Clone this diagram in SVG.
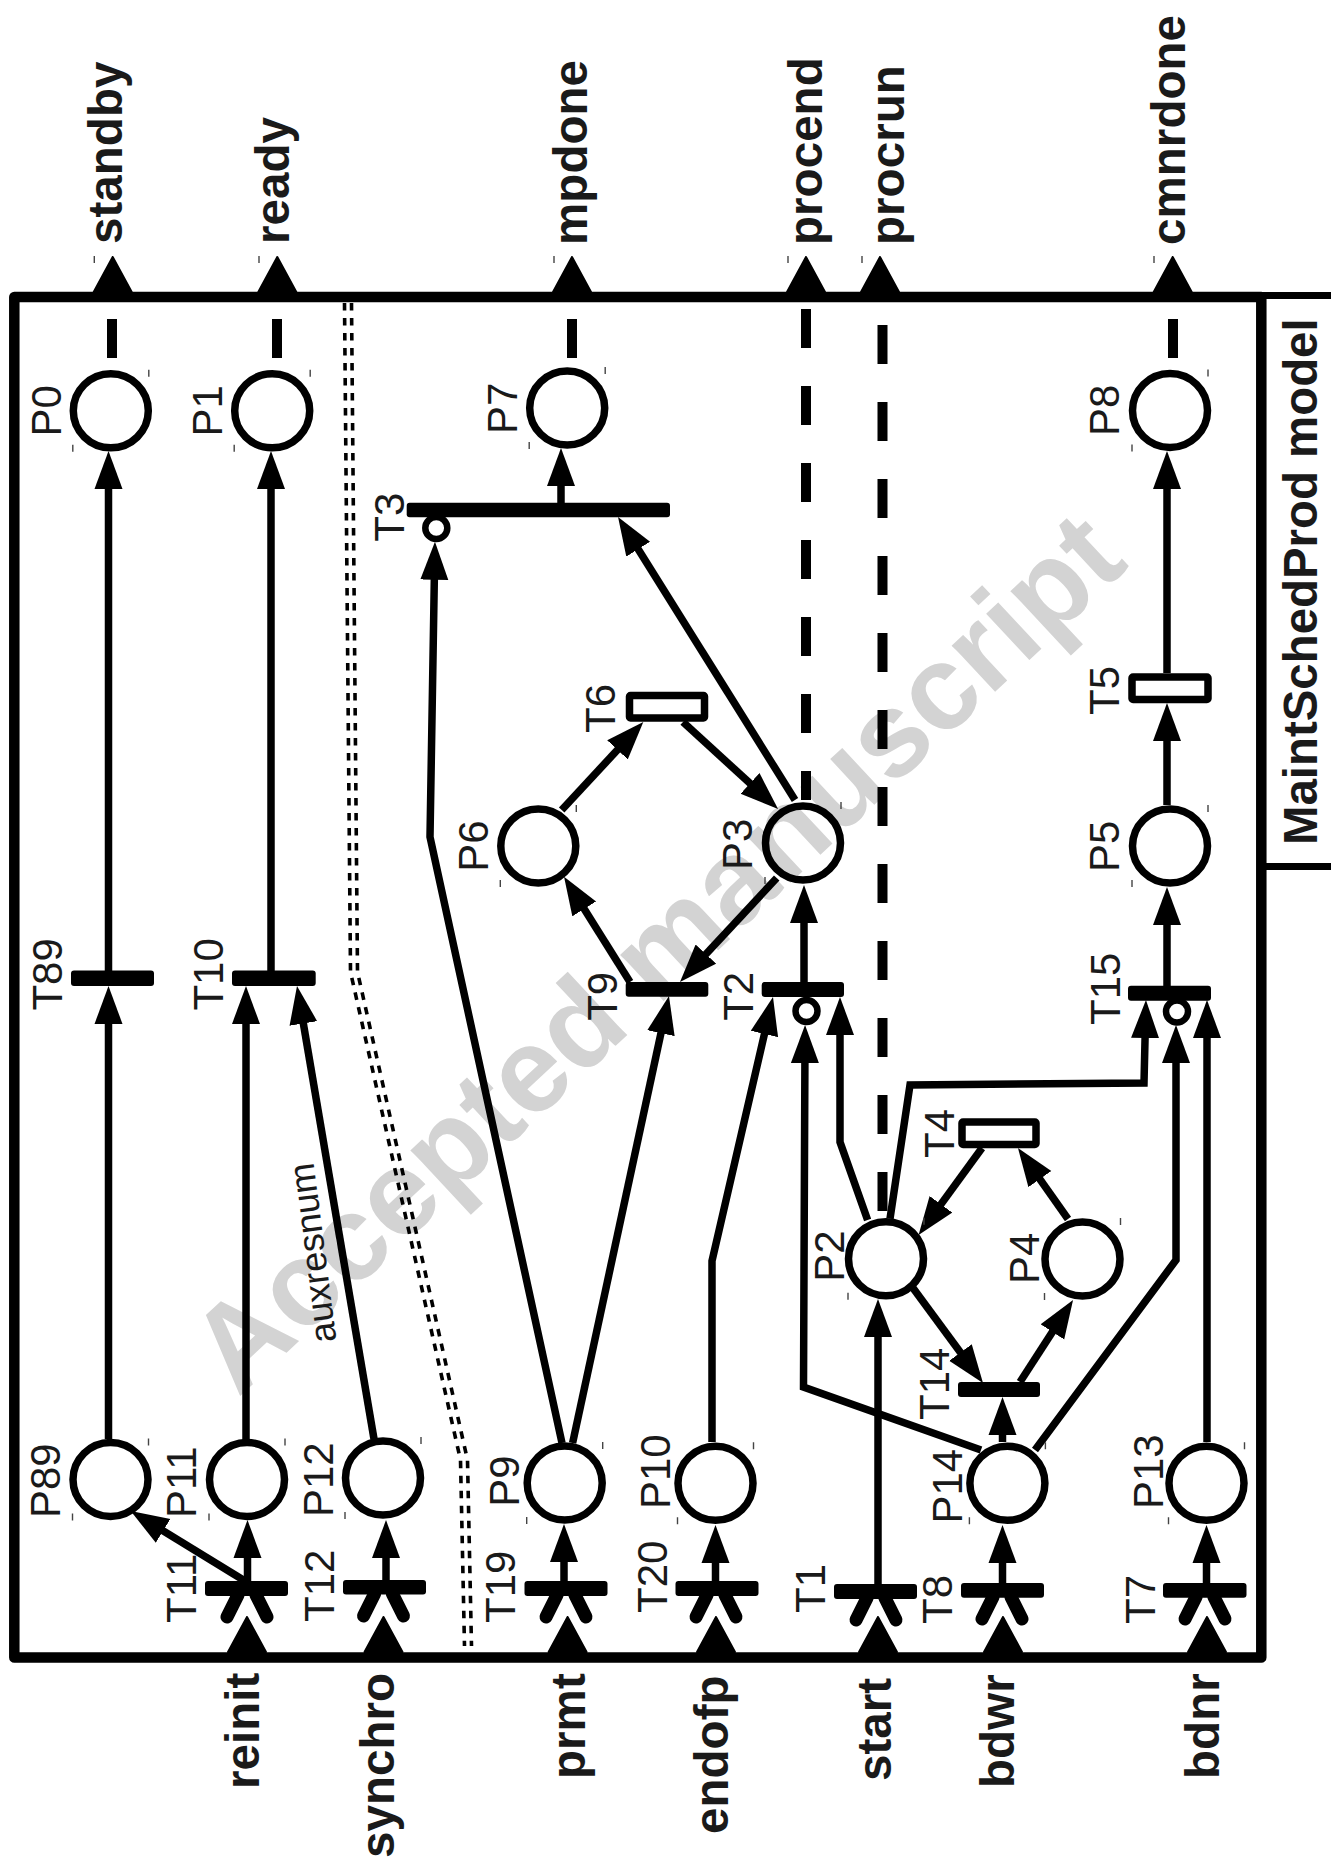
<svg xmlns="http://www.w3.org/2000/svg" width="1331" height="1864" viewBox="0 0 1331 1864">
<style>
.l{font-family:"Liberation Sans",Arial,sans-serif;font-size:42px;fill:#1a1a1a}
.b{font-family:"Liberation Sans",Arial,sans-serif;font-size:47.6px;font-weight:bold;fill:#1a1a1a}
.w{font-family:"Liberation Sans",Arial,sans-serif;font-size:120px;font-weight:bold;fill:#d3d3d3}
.a{fill:none;stroke:#000;stroke-width:7.5;marker-end:url(#ah)}
.d{fill:none;stroke:#000;stroke-width:10}
.dd{fill:none;stroke:#000;stroke-width:3.6;stroke-dasharray:7.5 7.5}
.bar{fill:#000;stroke:none}
.box{fill:#fff;stroke:#000;stroke-width:7.5;stroke-linejoin:round}
.pl{fill:none;stroke:#000;stroke-width:7.5}
.t{fill:none;stroke:#444;stroke-width:1.4}
.inh{fill:#fff;stroke:#000;stroke-width:6.5}
.leg{fill:none;stroke:#000;stroke-width:13;stroke-linecap:round}
.port{fill:#000;stroke:#000;stroke-width:2;stroke-linejoin:round}
.fr{fill:none;stroke:#000;stroke-width:10.5;stroke-linejoin:round}
</style>
<defs>
<marker id="ah" markerUnits="userSpaceOnUse" markerWidth="40" markerHeight="30" refX="23" refY="14.5" orient="auto"><path d="M0,0.5 L38,14.5 L0,28.5 Z" fill="#000"/></marker>
<g id="pc"><ellipse class="pl" cx="0" cy="0" rx="37.5" ry="37"/><path class="t" d="M38-41v7M-38 34v7"/></g>
<g id="legs"><path class="leg" d="M-9 0L-20 22M9 0L20 22"/></g>
<path id="pu" class="port" d="M0 0L-19 35H19Z"/>
</defs>
<text class="w" transform="translate(238,1398) rotate(-43)">Accepted manuscript</text>
<g id="frame">
<rect class="fr" x="14.3" y="297" width="1247" height="1360.5"/>
<path fill="none" stroke="#000" stroke-width="7" d="M1261 295.5H1331M1261 866.5H1331"/>
<text class="b" style="font-size:47.4px" transform="translate(1316.5,845) rotate(-90)">MaintSchedProd model</text>
</g>
<g id="connectors">
<path class="a" d="M108.5 1439V1001"/>
<path class="a" d="M108.5 971V466"/>
<path class="a" d="M246 1440V1001"/>
<path class="a" d="M271 971V466"/>
<path class="a" d="M374 1439L299.5 1000.8"/>
<path class="a" d="M245 1581L143.5 1518.8"/>
<path class="a" d="M247.5 1581V1535"/>
<path class="a" d="M386 1581V1535"/>
<path class="a" d="M564 1581V1539"/>
<path class="a" d="M715.5 1581V1540"/>
<path class="a" d="M878 1584V1314"/>
<path class="a" d="M1002.5 1583V1540"/>
<path class="a" d="M1206.5 1583V1540"/>
<path class="a" d="M1002.5 1442V1412"/>
<path class="a" d="M562 1443L430 837L434.7 556.7"/>
<path class="a" d="M572.6 1443L665.8 1010.7"/>
<path class="a" d="M712 1442V1261L769.6 1011.6"/>
<path class="a" d="M981 1450L803.5 1387L805 1040"/>
<path class="a" d="M867.6 1220L840 1142V1012"/>
<path class="a" d="M804 982V900"/>
<path class="a" d="M776.7 878L690.2 971"/>
<path class="a" d="M630 982L572 889.4"/>
<path class="a" d="M561.7 810L633.1 733"/>
<path class="a" d="M683 722L767 798.9"/>
<path class="a" d="M795 800L626 529.7"/>
<path class="a" d="M561 503V463"/>
<path class="a" d="M913 1288L974.1 1371"/>
<path class="a" d="M1020 1382L1064.9 1312.6"/>
<path class="a" d="M1068 1219L1026.6 1160.3"/>
<path class="a" d="M982 1148L927.4 1222.9"/>
<path class="a" d="M890 1218.7L910 1085L1144 1083L1145.6 1015"/>
<path class="a" d="M1035 1450L1176 1260V1040"/>
<path class="a" d="M1207 1442V1015"/>
<path class="a" d="M1167 986V902"/>
<path class="a" d="M1167 805V718"/>
<path class="a" d="M1167 673V466"/>
<path class="d" d="M112 319V358M277 319V358M572 319V358M1173 319V358"/>
<path class="d" stroke-dasharray="39 38" d="M806 309V800"/>
<path class="d" stroke-dasharray="39 38" d="M882.5 325V1211"/>
<path class="dd" d="M344.5 303L350.5 972L460.5 1460L464.5 1646"/>
<path class="dd" d="M351.5 303L357.5 972L467.5 1460L471.5 1646"/>
</g>
<g id="P0"><use href="#pc" x="110.8" y="410.8"/><text class="l" transform="translate(60.5,436.5) rotate(-90)">P0</text></g>
<g id="P1"><use href="#pc" x="272.2" y="410.8"/><text class="l" transform="translate(221.7,436.5) rotate(-90)">P1</text></g>
<g id="P7"><use href="#pc" x="567.2" y="408"/><text class="l" transform="translate(516.7,434) rotate(-90)">P7</text></g>
<g id="P8"><use href="#pc" x="1170" y="410.5"/><text class="l" transform="translate(1119,436) rotate(-90)">P8</text></g>
<g id="P6"><use href="#pc" x="538.3" y="846"/><text class="l" transform="translate(487.7,871.7) rotate(-90)">P6</text></g>
<g id="P3"><use href="#pc" x="803" y="843"/><text class="l" transform="translate(751.7,870) rotate(-90)">P3</text></g>
<g id="P5"><use href="#pc" x="1170" y="846"/><text class="l" transform="translate(1119,872) rotate(-90)">P5</text></g>
<g id="P2"><use href="#pc" x="886" y="1258.7"/><text class="l" transform="translate(844,1281.7) rotate(-90)">P2</text></g>
<g id="P4"><use href="#pc" x="1082.5" y="1259"/><text class="l" transform="translate(1039,1284) rotate(-90)">P4</text></g>
<g id="P89"><use href="#pc" x="110.5" y="1479.5"/><text class="l" transform="translate(60,1518) rotate(-90)">P89</text></g>
<g id="P11"><use href="#pc" x="247" y="1479.5"/><text class="l" transform="translate(196,1518) rotate(-90)">P11</text></g>
<g id="P12"><use href="#pc" x="383" y="1478"/><text class="l" transform="translate(333,1517) rotate(-90)">P12</text></g>
<g id="P9"><use href="#pc" x="564.7" y="1483"/><text class="l" transform="translate(518.7,1506.7) rotate(-90)">P9</text></g>
<g id="P10"><use href="#pc" x="715.5" y="1483.3"/><text class="l" transform="translate(670,1509) rotate(-90)">P10</text></g>
<g id="P14"><use href="#pc" x="1007.4" y="1483.3"/><text class="l" transform="translate(961.6,1523.5) rotate(-90)">P14</text></g>
<g id="P13"><use href="#pc" x="1206.5" y="1483.3"/><text class="l" transform="translate(1162.5,1509) rotate(-90)">P13</text></g>
<g id="T3"><rect class="bar" x="406.7" y="502.7" width="263.3" height="14.6" rx="3"/><circle class="inh" cx="436.3" cy="528" r="11"/><text class="l" transform="translate(404,541.7) rotate(-90)">T3</text></g>
<g id="T6"><rect class="box" x="629.5" y="695.5" width="75" height="22.5" rx="1"/><text class="l" transform="translate(615,733) rotate(-90)">T6</text></g>
<g id="T5"><rect class="box" x="1132" y="677" width="76" height="22.5" rx="1"/><text class="l" transform="translate(1119,715) rotate(-90)">T5</text></g>
<g id="T4"><rect class="box" x="962" y="1122" width="74" height="22.5" rx="1"/><text class="l" transform="translate(954,1158) rotate(-90)">T4</text></g>
<g id="T9"><rect class="bar" x="625.7" y="982" width="82.6" height="14.7" rx="3"/><text class="l" transform="translate(616.8,1020.8) rotate(-90)">T9</text></g>
<g id="T2"><rect class="bar" x="761.7" y="982" width="82.3" height="15" rx="3"/><circle class="inh" cx="806.5" cy="1011" r="11"/><text class="l" transform="translate(752.6,1020.8) rotate(-90)">T2</text></g>
<g id="T15"><rect class="bar" x="1128" y="985.7" width="83" height="15" rx="3"/><circle class="inh" cx="1177" cy="1011.5" r="11"/><text class="l" transform="translate(1120,1025) rotate(-90)">T15</text></g>
<g id="T14"><rect class="bar" x="958" y="1382" width="82" height="15" rx="3"/><text class="l" transform="translate(949,1420) rotate(-90)">T14</text></g>
<g id="T89"><rect class="bar" x="71" y="970.6" width="83" height="15.4" rx="3"/><text class="l" transform="translate(62,1010.6) rotate(-90)">T89</text></g>
<g id="T10"><rect class="bar" x="232" y="970.6" width="83.7" height="15.4" rx="3"/><text class="l" transform="translate(223,1010.6) rotate(-90)">T10</text></g>
<g id="T11"><use href="#legs" x="247" y="1595"/><rect class="bar" x="205" y="1581" width="83" height="15" rx="3"/><text class="l" transform="translate(196,1623) rotate(-90)">T11</text></g>
<g id="T12"><use href="#legs" x="383.5" y="1594"/><rect class="bar" x="343" y="1580" width="83" height="14.5" rx="3"/><text class="l" transform="translate(334,1622) rotate(-90)">T12</text></g>
<g id="T19"><use href="#legs" x="566" y="1595"/><rect class="bar" x="524.5" y="1581" width="83" height="15" rx="3"/><text class="l" transform="translate(514.5,1623) rotate(-90)">T19</text></g>
<g id="T20"><use href="#legs" x="716" y="1595"/><rect class="bar" x="675.5" y="1581" width="83" height="15" rx="3"/><text class="l" transform="translate(666.5,1613) rotate(-90)">T20</text></g>
<g id="T1"><use href="#legs" x="876" y="1598"/><rect class="bar" x="834" y="1584" width="83" height="15" rx="3"/><text class="l" transform="translate(824.5,1613) rotate(-90)">T1</text></g>
<g id="T8"><use href="#legs" x="1002" y="1597"/><rect class="bar" x="961" y="1583" width="83" height="14.7" rx="3"/><text class="l" transform="translate(952,1624) rotate(-90)">T8</text></g>
<g id="T7"><use href="#legs" x="1205" y="1597"/><rect class="bar" x="1163" y="1583" width="83.5" height="14.7" rx="3"/><text class="l" transform="translate(1155,1624) rotate(-90)">T7</text></g>
<text id="auxresnum" class="l" style="font-size:36.5px" transform="translate(336.4,1341) rotate(-97.3)">auxresnum</text>
<g id="reinit"><use href="#pu" x="247" y="1617"/><text class="b" transform="translate(259,1789) rotate(-90)">reinit</text></g>
<g id="synchro"><use href="#pu" x="383.5" y="1617"/><text class="b" transform="translate(394,1858) rotate(-90)">synchro</text></g>
<g id="prmt"><use href="#pu" x="567.6" y="1617"/><text class="b" transform="translate(585,1779) rotate(-90)">prmt</text></g>
<g id="endofp"><use href="#pu" x="716" y="1617"/><text class="b" transform="translate(727.8,1834) rotate(-90)">endofp</text></g>
<g id="start"><use href="#pu" x="878" y="1617"/><text class="b" transform="translate(891,1781) rotate(-90)">start</text></g>
<g id="bdwr"><use href="#pu" x="1003" y="1617"/><text class="b" transform="translate(1014,1788) rotate(-90)">bdwr</text></g>
<g id="bdnr"><use href="#pu" x="1207" y="1617"/><text class="b" transform="translate(1219,1779) rotate(-90)">bdnr</text></g>
<g id="standby"><use href="#pu" x="112.7" y="257"/><path class="t" d="M94.3 256v7"/><text class="b" transform="translate(122,244) rotate(-90)">standby</text></g>
<g id="ready"><use href="#pu" x="277.3" y="257"/><path class="t" d="M259 256v7"/><text class="b" transform="translate(289.3,244) rotate(-90)">ready</text></g>
<g id="mpdone"><use href="#pu" x="572" y="257"/><path class="t" d="M554 256v7"/><text class="b" transform="translate(587,245) rotate(-90)">mpdone</text></g>
<g id="procend"><use href="#pu" x="806" y="257"/><path class="t" d="M788 256v7"/><text class="b" transform="translate(822,245) rotate(-90)">procend</text></g>
<g id="procrun"><use href="#pu" x="880" y="257"/><path class="t" d="M862 256v7"/><text class="b" transform="translate(904,245) rotate(-90)">procrun</text></g>
<g id="cmnrdone"><use href="#pu" x="1172.7" y="257"/><path class="t" d="M1154 256v7"/><text class="b" transform="translate(1185,245) rotate(-90)">cmnrdone</text></g>
</svg>
